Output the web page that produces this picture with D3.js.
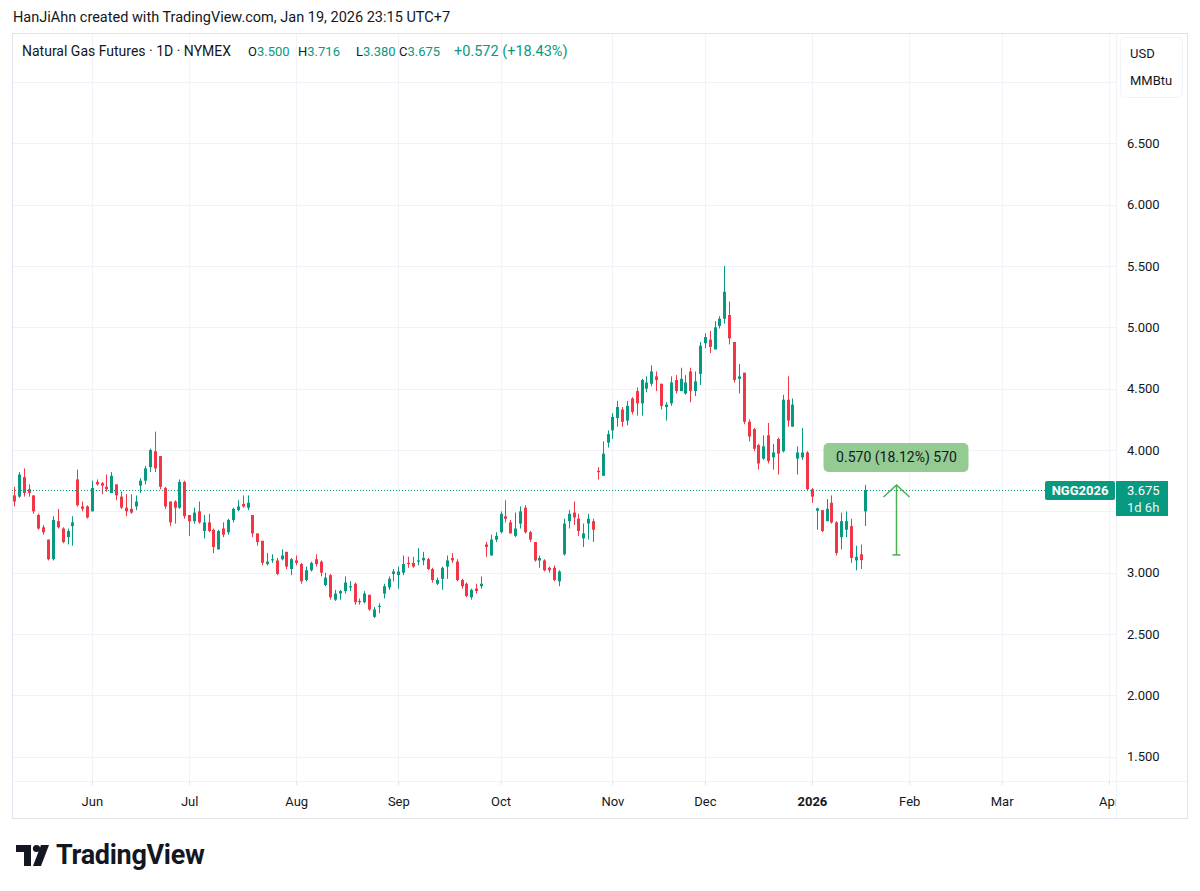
<!DOCTYPE html>
<meta charset="utf-8">
<style>
  body { margin: 0; background: #fff; }
  svg text { font-family: Roboto, "Liberation Sans", sans-serif; fill: #131722; }
</style>
<body>
<svg id="chart" width="1200" height="891"></svg>
<script src="https://cdn.jsdelivr.net/npm/d3@7"></script>
<script>

// ---- data ----
var startDate = "2025-05-08";
var endDate = "2026-05-01";
var holidays = ["2025-05-26", "2025-06-19", "2025-07-04", "2025-09-01", "2025-11-27",
                "2025-12-25", "2026-01-01", "2026-01-19", "2026-02-16"];

var opens = [3.63,3.62,3.78,3.68,3.63,3.47,3.37,3.27,3.11,3.42,3.36,3.29,3.38,3.76,3.54,3.54,3.50,3.74,3.73,3.70,
  3.65,3.72,3.62,3.53,3.52,3.54,3.71,3.75,3.86,3.99,3.95,3.69,3.58,3.58,3.53,3.74,3.47,3.42,3.50,3.34,
  3.41,3.35,3.19,3.36,3.33,3.43,3.51,3.56,3.53,3.47,3.32,3.26,3.07,3.10,3.10,3.11,3.17,3.03,3.10,3.07,
  2.94,3.02,3.11,3.09,2.90,2.98,2.78,2.83,2.85,2.88,2.91,2.77,2.76,2.82,2.64,2.72,2.83,2.88,2.99,2.98,
  3.00,3.08,3.08,3.09,3.10,3.11,3.03,2.91,2.95,3.05,3.12,3.09,2.94,2.91,2.80,2.87,2.89,3.23,3.14,3.27,
  3.33,3.46,3.41,3.30,3.40,3.53,3.33,3.25,3.10,3.10,3.04,3.04,2.93,3.15,3.42,3.49,3.44,3.28,3.40,3.42,
  3.83,3.79,4.06,4.16,4.26,4.33,4.24,4.42,4.48,4.38,4.50,4.54,4.60,4.54,4.35,4.38,4.57,4.48,4.46,4.64,
  4.48,4.62,4.87,4.90,4.82,5.01,5.07,5.10,4.88,4.58,4.63,4.23,4.17,4.04,3.93,4.12,3.94,4.09,3.99,4.41,
  4.19,3.93,3.94,3.98,3.68,3.505,3.51,3.42,3.57,3.41,3.29,3.35,3.38,3.10,3.15,3.500];
var highs = [3.70,3.82,3.85,3.72,3.63,3.48,3.39,3.27,3.46,3.52,3.37,3.36,3.46,3.84,3.58,3.55,3.75,3.76,3.74,3.80,
  3.82,3.72,3.66,3.64,3.64,3.63,3.77,3.87,4.01,4.15,3.95,3.70,3.58,3.59,3.76,3.75,3.47,3.53,3.58,3.47,
  3.48,3.36,3.35,3.41,3.44,3.53,3.59,3.63,3.63,3.47,3.32,3.26,3.16,3.15,3.12,3.19,3.17,3.12,3.14,3.08,
  3.05,3.09,3.15,3.10,3.00,2.99,2.86,2.86,2.97,2.93,2.92,2.79,2.85,2.82,2.72,2.75,2.91,2.97,3.03,3.05,
  3.14,3.13,3.13,3.20,3.17,3.12,3.04,2.96,3.05,3.14,3.16,3.11,2.95,2.92,2.87,2.91,2.97,3.25,3.31,3.33,
  3.50,3.59,3.43,3.49,3.54,3.55,3.34,3.25,3.14,3.11,3.05,3.06,3.02,3.44,3.51,3.58,3.48,3.40,3.48,3.44,
  3.86,4.07,4.16,4.30,4.40,4.35,4.40,4.43,4.51,4.58,4.60,4.69,4.64,4.54,4.39,4.60,4.61,4.67,4.61,4.67,
  4.64,4.88,4.95,4.97,5.05,5.09,5.50,5.21,4.88,4.70,4.63,4.25,4.18,4.05,4.12,4.22,4.05,4.10,4.45,4.60,
  4.42,4.03,4.18,3.99,3.69,3.53,3.51,3.60,3.63,3.42,3.49,3.50,3.44,3.22,3.23,3.716];
var lows = [3.54,3.61,3.62,3.62,3.48,3.35,3.31,3.10,3.10,3.36,3.24,3.23,3.22,3.54,3.50,3.44,3.50,3.71,3.64,3.66,
  3.65,3.59,3.52,3.46,3.48,3.51,3.65,3.72,3.82,3.82,3.68,3.52,3.38,3.40,3.52,3.44,3.30,3.40,3.40,3.28,
  3.33,3.16,3.19,3.29,3.31,3.41,3.50,3.53,3.51,3.29,3.22,3.06,3.06,3.08,2.98,3.10,3.03,2.98,3.06,2.91,
  2.93,3.01,3.05,2.97,2.89,2.78,2.77,2.78,2.83,2.85,2.74,2.74,2.75,2.69,2.63,2.67,2.79,2.86,2.93,2.87,
  2.98,3.04,3.04,3.06,3.06,3.02,2.92,2.90,2.86,2.95,3.08,2.93,2.87,2.80,2.78,2.83,2.87,3.13,3.14,3.25,
  3.32,3.41,3.32,3.29,3.36,3.32,3.25,3.09,3.04,3.01,3.00,2.93,2.89,3.14,3.36,3.39,3.30,3.21,3.27,3.25,
  3.76,3.79,4.02,4.09,4.19,4.19,4.20,4.29,4.28,4.28,4.47,4.52,4.48,4.33,4.24,4.36,4.46,4.48,4.45,4.39,
  4.44,4.53,4.83,4.79,4.82,4.99,5.03,4.86,4.55,4.46,4.21,4.07,3.99,3.84,3.92,3.89,3.84,3.80,3.98,4.19,
  4.19,3.80,3.92,3.67,3.57,3.35,3.33,3.42,3.40,3.14,3.19,3.29,3.08,3.02,3.03,3.380];
var closes = [3.58,3.80,3.65,3.65,3.50,3.36,3.33,3.11,3.43,3.37,3.25,3.34,3.41,3.55,3.52,3.45,3.69,3.72,3.71,3.68,
  3.79,3.63,3.53,3.50,3.49,3.58,3.75,3.85,4.00,3.85,3.70,3.54,3.41,3.53,3.74,3.46,3.42,3.49,3.41,3.41,
  3.34,3.21,3.34,3.31,3.43,3.52,3.54,3.54,3.57,3.32,3.25,3.08,3.09,3.11,2.99,3.14,3.05,3.11,3.08,2.93,
  3.02,3.08,3.07,3.00,2.96,2.80,2.83,2.85,2.92,2.89,2.76,2.76,2.83,2.70,2.70,2.73,2.89,2.95,3.01,3.01,
  3.07,3.07,3.05,3.10,3.12,3.03,2.94,2.94,3.04,3.10,3.10,2.94,2.89,2.81,2.86,2.85,2.91,3.21,3.27,3.30,
  3.48,3.44,3.32,3.36,3.50,3.33,3.27,3.10,3.12,3.02,3.02,2.94,3.01,3.40,3.48,3.45,3.34,3.32,3.44,3.35,
  3.82,3.97,4.13,4.27,4.35,4.23,4.36,4.31,4.38,4.57,4.55,4.64,4.57,4.36,4.37,4.55,4.48,4.58,4.55,4.48,
  4.56,4.85,4.92,4.84,5.00,5.07,5.29,4.91,4.57,4.60,4.23,4.11,4.01,3.89,4.03,3.91,3.98,3.97,4.41,4.24,
  4.37,3.98,3.98,3.68,3.62,3.524,3.34,3.52,3.41,3.16,3.42,3.42,3.12,3.13,3.103,3.675];

var priceTicks = [1.5, 2, 2.5, 3, 3.5, 4, 4.5, 5, 5.5, 6, 6.5, 7];
var symbol = "NGG2026";
var countdown = "1d 6h";
var measureFrom = 3.145;
var measureTo = 3.715;
var measureBar = 181.3;
var measureText = "0.570 (18.12%) 570";

// ---- layout ----
var paneL = 12, paneR = 1116, paneT = 33, paneB = 781, frameR = 1187, frameB = 818;
var green = "#089981", red = "#f23645", grid = "#f0f3fa", border = "#e0e3eb";

var svg = d3.select("#chart");

// trading calendar
var parse = d3.utcParse("%Y-%m-%d"), fmt = d3.utcFormat("%Y-%m-%d");
var days = d3.utcDay.range(parse(startDate), parse(endDate)).filter(function (d) {
  var wd = d.getUTCDay();
  return wd !== 0 && wd !== 6 && holidays.indexOf(fmt(d)) < 0;
});

var bars = opens.map(function (o, i) {
  return {i: i, o: o, h: highs[i], l: lows[i], c: closes[i]};
});

var x = d3.scaleLinear().domain([-0.41, 226.5]).range([paneL, paneR]);
var y = d3.scaleLinear().domain([1.3024, 7.3985]).range([paneB, paneT]);

var monthStarts = [];
days.forEach(function (d, i) {
  if (i > 0 && d.getUTCMonth() !== days[i - 1].getUTCMonth()) monthStarts.push(i);
});

var last = bars[bars.length - 1];
var prev = bars[bars.length - 2];
var yl = Math.round(y(last.c)) + 0.5;

var defs = svg.append("defs");
defs.append("clipPath").attr("id", "pane").append("rect")
  .attr("x", paneL).attr("y", paneT).attr("width", paneR - paneL).attr("height", paneB - paneT);
defs.append("clipPath").attr("id", "timeaxis").append("rect")
  .attr("x", paneL).attr("y", paneB).attr("width", paneR - paneL).attr("height", frameB - paneB);

// header
svg.append("text").attr("x", 13).attr("y", 22).style("font-size", "14.5px")
  .text("HanJiAhn created with TradingView.com, Jan 19, 2026 23:15 UTC+7");

// grid
var gridG = svg.append("g").attr("clip-path", "url(#pane)");
gridG.selectAll(".hg").data(priceTicks).enter().append("line")
  .attr("x1", paneL).attr("x2", paneR)
  .attr("y1", function (d) { return Math.round(y(d)) + 0.5; })
  .attr("y2", function (d) { return Math.round(y(d)) + 0.5; })
  .attr("stroke", grid);
gridG.selectAll(".vg").data(monthStarts).enter().append("line")
  .attr("x1", function (d) { return Math.round(x(d)) + 0.5; })
  .attr("x2", function (d) { return Math.round(x(d)) + 0.5; })
  .attr("y1", paneT).attr("y2", paneB)
  .attr("stroke", grid);

// frame
svg.append("rect").attr("x", paneL + 0.5).attr("y", paneT + 0.5)
  .attr("width", frameR - paneL).attr("height", frameB - paneT)
  .attr("fill", "none").attr("stroke", border);
svg.append("line").attr("x1", paneL).attr("x2", frameR).attr("y1", paneB + 0.5).attr("y2", paneB + 0.5)
  .attr("stroke", grid);
svg.append("line").attr("x1", paneR + 0.5).attr("x2", paneR + 0.5).attr("y1", paneT).attr("y2", frameB)
  .attr("stroke", grid);

// candles
var candleG = svg.append("g").attr("clip-path", "url(#pane)");
var cg = candleG.selectAll("g.c").data(bars).enter().append("g");
cg.append("line")
  .attr("x1", function (d) { return Math.round(x(d.i)) + 0.5; })
  .attr("x2", function (d) { return Math.round(x(d.i)) + 0.5; })
  .attr("y1", function (d) { return y(d.h); })
  .attr("y2", function (d) { return y(d.l); })
  .attr("stroke", function (d) { return d.c >= d.o ? green : red; })
  .attr("stroke-width", 1);
cg.append("rect")
  .attr("x", function (d) { return Math.round(x(d.i)) - 1; })
  .attr("width", 3)
  .attr("y", function (d) { return y(Math.max(d.o, d.c)); })
  .attr("height", function (d) { return Math.max(1, Math.abs(y(d.o) - y(d.c))); })
  .attr("fill", function (d) { return d.c >= d.o ? green : red; });

// last price line
svg.append("line").attr("x1", paneL).attr("x2", 1045).attr("y1", yl).attr("y2", yl)
  .attr("stroke", green).attr("stroke-dasharray", "1,2");

// measure tool
var mx = Math.round(x(measureBar)) + 0.5;
var my0 = y(measureFrom), my1 = y(measureTo);
var mg = svg.append("g").attr("stroke", "#4caf50").attr("stroke-width", 1.5).attr("fill", "none");
mg.append("line").attr("x1", mx).attr("x2", mx).attr("y1", my0).attr("y2", my1);
mg.append("line").attr("x1", mx - 4).attr("x2", mx + 4).attr("y1", my0).attr("y2", my0);
mg.append("path").attr("d", "M" + (mx - 13) + "," + (my1 + 12) + "L" + mx + "," + my1 + "L" + (mx + 13) + "," + (my1 + 12));
svg.append("rect").attr("x", mx - 73).attr("y", my1 - 42).attr("width", 145).attr("height", 29)
  .attr("rx", 5).attr("fill", "#93cb93");
svg.append("text").attr("x", mx).attr("y", my1 - 22.5).attr("text-anchor", "middle")
  .style("font-size", "14px").text(measureText);

// price axis (labels hidden under the unit box and the last-price label are left out)
var labelTicks = priceTicks.filter(function (v) {
  var py = y(v);
  return py > 105 && Math.abs(py - (yl + 8)) > 22;
});
var yAxis = svg.append("g").attr("transform", "translate(" + paneR + ",0)")
  .call(d3.axisRight(y).tickValues(labelTicks).tickSize(0).tickPadding(11).tickFormat(d3.format(".3f")));
yAxis.select(".domain").remove();
yAxis.selectAll("text").style("font-size", "13px").attr("fill", "#131722")
  .style("font-family", "Roboto, sans-serif");

// unit box
svg.append("rect").attr("x", 1120.5).attr("y", 37.5).attr("width", 62).attr("height", 60).attr("rx", 5)
  .attr("fill", "#fff").attr("stroke", "#f0f3fa");
svg.append("text").attr("x", 1130).attr("y", 58).style("font-size", "13px").text("USD");
svg.append("text").attr("x", 1130).attr("y", 85).style("font-size", "13px").text("MMBtu");

// symbol + price labels
svg.append("rect").attr("x", 1045).attr("y", yl - 9.5).attr("width", 70).attr("height", 19).attr("rx", 2).attr("fill", green);
svg.append("text").attr("x", 1080).attr("y", yl + 4.5).attr("text-anchor", "middle")
  .style("font-size", "13px").style("font-weight", "bold").style("fill", "#fff").text(symbol);
svg.append("rect").attr("x", paneR).attr("y", yl - 9.5).attr("width", 52).attr("height", 35).attr("fill", green);
svg.append("text").attr("x", 1127).attr("y", yl + 4.5).style("font-size", "13px").style("fill", "#fff")
  .text(d3.format(".3f")(last.c));
svg.append("text").attr("x", 1127).attr("y", yl + 21).style("font-size", "13px").style("fill", "#e6f4f1")
  .text(countdown);

// time axis
var xAxisClip = svg.append("g").attr("clip-path", "url(#timeaxis)");
var xAxis = xAxisClip.append("g").attr("transform", "translate(0," + paneB + ")")
  .call(d3.axisBottom(x).tickValues(monthStarts).tickSize(4).tickPadding(12)
    .tickFormat(function (i) {
      var d = days[i];
      return d.getUTCMonth() === 0 ? d3.utcFormat("%Y")(d) : d3.utcFormat("%b")(d);
    }));
xAxis.select(".domain").remove();
xAxis.selectAll(".tick line").attr("stroke", border);
xAxis.selectAll("text").style("font-size", "13px").attr("fill", "#131722")
  .style("font-family", "Roboto, sans-serif")
  .style("font-weight", function (i) { return days[i].getUTCMonth() === 0 ? "bold" : "normal"; });

// legend
var f3 = d3.format(".3f");
var chg = last.c - prev.c;
svg.append("text").attr("x", 22).attr("y", 56).style("font-size", "14px").text("Natural Gas Futures · 1D · NYMEX");
var ohlc = [["O", last.o, 248], ["H", last.h, 298], ["L", last.l, 356], ["C", last.c, 399]];
ohlc.forEach(function (p) {
  var t = svg.append("text").attr("x", p[2]).attr("y", 56).style("font-size", "13px");
  t.append("tspan").text(p[0]);
  t.append("tspan").style("fill", green).text(f3(p[1]));
});
svg.append("text").attr("x", 454).attr("y", 56).style("font-size", "14.5px").style("fill", green)
  .text("+" + f3(chg) + " (+" + d3.format(".2f")(chg / prev.c * 100) + "%)");

// logo
var logo = svg.append("g").attr("fill", "#131722");
logo.append("path").attr("d", "M16,845 H31 V866 H24 V852 H16 Z");
logo.append("circle").attr("cx", 36.5).attr("cy", 848.5).attr("r", 3.6);
logo.append("path").attr("d", "M41,845 H49 L41,866 H33 Z");
svg.append("text").attr("x", 56).attr("y", 864).style("font-size", "27px").style("font-weight", "700")
  .style("letter-spacing", "-0.3px").text("TradingView");

</script>
</body>
